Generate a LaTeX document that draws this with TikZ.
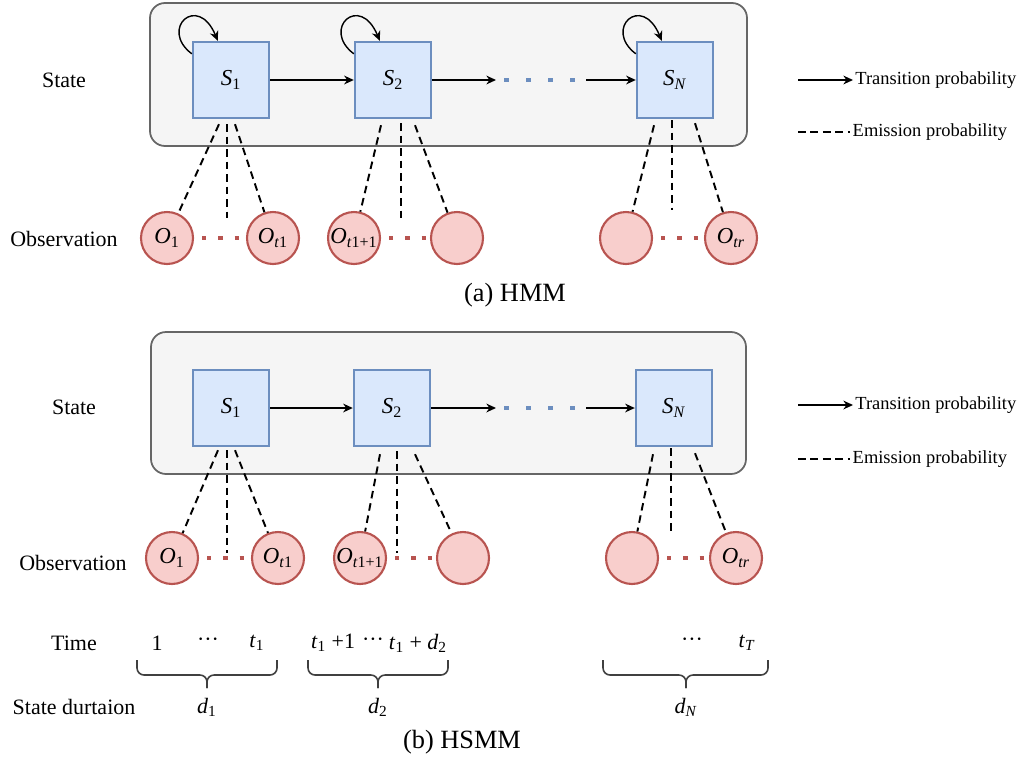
\documentclass[tikz,border=0pt]{standalone}
\usepackage{fontspec}
\setmainfont{Liberation Serif}
\usetikzlibrary{arrows.meta,calc}
\definecolor{boxgray}{HTML}{F5F5F5}
\definecolor{edgegray}{HTML}{666666}
\definecolor{stfill}{HTML}{DAE8FC}
\definecolor{stdraw}{HTML}{6C8EBF}
\definecolor{obfill}{HTML}{F8CECC}
\definecolor{obdraw}{HTML}{B85450}
\newcommand{\mvar}[2]{\textit{#1}\textsubscript{#2}}
\newcommand{\cdts}{\textperiodcentered\textperiodcentered\textperiodcentered}

\begin{document}
\begin{tikzpicture}[x=0.02cm,y=-0.02cm,
  panel/.style={draw=edgegray,fill=boxgray,line width=1pt,rounded corners=0.3cm},
  stnode/.style={draw=stdraw,fill=stfill,line width=1.4pt,minimum size=1.52cm,inner sep=0pt,font=\fontsize{13}{15}\selectfont},
  obnode/.style={circle,draw=obdraw,fill=obfill,line width=1.2pt,minimum size=1.04cm,inner sep=0pt,font=\fontsize{13}{15}\selectfont},
  lbl/.style={font=\fontsize{12.5}{15}\selectfont},
  tlbl/.style={font=\fontsize{12.5}{14}\selectfont},
  leg/.style={anchor=west,inner sep=1pt,font=\fontsize{10.5}{12}\selectfont},
  captext/.style={font=\fontsize{15}{18}\selectfont},
  trans/.style={-{Stealth[length=5.5pt,width=5pt]},line width=0.8pt},
  emit/.style={line width=1.1pt,dash pattern=on 4.3pt off 2.8pt},
  rdots/.style={draw=obdraw,line width=2.4pt,dash pattern=on 2.4pt off 6.9pt,dash phase=4.75pt},
  bdots/.style={draw=stdraw,line width=2.8pt,dash pattern=on 2.8pt off 9.7pt,dash phase=7.7pt},
  brc/.style={rounded corners=4pt,line width=0.9pt,draw=black!75}]
\useasboundingbox (0,0) rectangle (1023,761);

% (a) HMM
\draw[panel] (150,3) rectangle (747,146);
\node[lbl] (state) at (64,80) {State};
\node[lbl] (obs) at (64,239) {Observation};
\node[stnode] (s1) at (231,80) {\mvar{S}{1}};
\node[stnode] (s2) at (393,80) {\mvar{S}{2}};
\node[stnode] (sn) at (675,80) {\mvar{S}{\textit{N}}};
\node[obnode] (o1) at (167,238) {\mvar{O}{1}};
\node[obnode] (ot1) at (273,238) {\mvar{O}{\textit{t}1}};
\node[obnode] (ot2) at (354,238) {\mvar{O}{\textit{t}1+1}};
\node[obnode] (ob2) at (457,238) {};
\node[obnode] (ob3) at (626,238) {};
\node[obnode] (otr) at (731,238) {\mvar{O}{\textit{tr}}};
\coordinate (ga) at (496,80);
\coordinate (gb) at (586,80);
\draw[trans] (s1) -- (s2);
\draw[trans] (s2) -- (ga);
\draw[bdots] (ga) -- (gb);
\draw[trans] (gb) -- (sn);
\draw[trans] ($(s1.north west)+(0,13)$) .. controls ($(s1.north west)+(-33,-12)$) and ($(s1.north west)+(6,-48)$) .. ($(s1.north west)+(26,0)$);
\draw[trans] ($(s2.north west)+(0,13)$) .. controls ($(s2.north west)+(-33,-12)$) and ($(s2.north west)+(6,-48)$) .. ($(s2.north west)+(26,0)$);
\draw[trans] ($(sn.north west)+(0,13)$) .. controls ($(sn.north west)+(-33,-12)$) and ($(sn.north west)+(6,-48)$) .. ($(sn.north west)+(26,0)$);
\coordinate (m1) at (227,218);
\coordinate (m2) at (401,218);
\coordinate (m3) at (672,210);
\draw[emit] ($(s1.south)+(-12,5)$) -- (o1);
\draw[emit] ($(s1.south)+(-4,5)$) -- (m1);
\draw[emit] ($(s1.south)+(4,5)$) -- (ot1);
\draw[emit] ($(s2.south)+(-12,6)$) -- (ot2);
\draw[emit] ($(s2.south)+(8,4)$) -- (m2);
\draw[emit] ($(s2.south)+(22,6)$) -- (ob2);
\draw[emit] ($(sn.south)+(-21,6)$) -- (ob3);
\draw[emit] ($(sn.south)+(-3,1)$) -- (m3);
\draw[emit] ($(sn.south)+(20,4)$) -- (otr);
\draw[rdots] (o1) -- (ot1);
\draw[rdots] (ot2) -- (ob2);
\draw[rdots] (ob3) -- (otr);
\coordinate (la1) at (798,80);
\coordinate (la2) at (853,80);
\draw[trans] (la1) -- (la2) node[leg] (tpa) {Transition probability};
\coordinate (le1) at (798,132);
\coordinate (le2) at (850,132);
\draw[emit] (le1) -- (le2) node[leg] (epa) {Emission probability};
\node[captext] (capa) at (515,295) {(a) HMM};

% (b) HSMM
\draw[panel] (151,332) rectangle (746,474);
\node[lbl] (stateb) at (74,407) {State};
\node[lbl] (obsb) at (73,563) {Observation};
\node[lbl] (time) at (74,643) {Time};
\node[lbl] (dur) at (74,707) {State durtaion};
\node[stnode] (s1b) at (231,408) {\mvar{S}{1}};
\node[stnode] (s2b) at (392,408) {\mvar{S}{2}};
\node[stnode] (snb) at (674,408) {\mvar{S}{\textit{N}}};
\node[obnode] (o1b) at (172,558) {\mvar{O}{1}};
\node[obnode] (ot1b) at (278,558) {\mvar{O}{\textit{t}1}};
\node[obnode] (ot2b) at (360,558) {\mvar{O}{\textit{t}1+1}};
\node[obnode] (ob2b) at (463,558) {};
\node[obnode] (ob3b) at (632,558) {};
\node[obnode] (otrb) at (736,558) {\mvar{O}{\textit{tr}}};
\coordinate (gc) at (496,408);
\coordinate (gd) at (586,408);
\draw[trans] (s1b) -- (s2b);
\draw[trans] (s2b) -- (gc);
\draw[bdots] (gc) -- (gd);
\draw[trans] (gd) -- (snb);
\coordinate (m4) at (227,553);
\coordinate (m5) at (397,553);
\coordinate (m6) at (671,535);
\draw[emit] ($(s1b.south)+(-13,3)$) -- (o1b);
\draw[emit] ($(s1b.south)+(-4,3)$) -- (m4);
\draw[emit] ($(s1b.south)+(4,3)$) -- (ot1b);
\draw[emit] ($(s2b.south)+(-12,7)$) -- (ot2b);
\draw[emit] ($(s2b.south)+(5,4)$) -- (m5);
\draw[emit] ($(s2b.south)+(23,7)$) -- (ob2b);
\draw[emit] ($(snb.south)+(-21,7)$) -- (ob3b);
\draw[emit] ($(snb.south)+(-3,1)$) -- (m6);
\draw[emit] ($(snb.south)+(21,6)$) -- (otrb);
\draw[rdots] (o1b) -- (ot1b);
\draw[rdots] (ot2b) -- (ob2b);
\draw[rdots] (ob3b) -- (otrb);
\coordinate (lb1) at (798,405);
\coordinate (lb2) at (853,405);
\draw[trans] (lb1) -- (lb2) node[leg] (tpb) {Transition probability};
\coordinate (lf1) at (798,459);
\coordinate (lf2) at (850,459);
\draw[emit] (lf1) -- (lf2) node[leg] (epb) {Emission probability};

% time and durations
\node[tlbl] (t1) at (157,643) {1};
\node[tlbl] (t2) at (208,642) {\cdts};
\node[tlbl] (t3) at (257,643) {\mvar{t}{1}};
\node[tlbl] (t4) at (333,643) {\mvar{t}{1} +1};
\node[tlbl] (t5) at (373,642) {\cdts};
\node[tlbl] (t6) at (418,643) {\mvar{t}{1} + \mvar{d}{2}};
\node[tlbl] (t7) at (692,642) {\cdts};
\node[tlbl] (t8) at (747,643) {\mvar{t}{\textit{T}}};
\draw[brc] (137,660) |- (207,675) -- (207,688);
\draw[brc] (277,660) |- (207,675) -- (207,688);
\draw[brc] (308,660) |- (378,675) -- (378,688);
\draw[brc] (448,660) |- (378,675) -- (378,688);
\draw[brc] (603,660) |- (686,675) -- (686,688);
\draw[brc] (768,660) |- (686,675) -- (686,688);
\node[tlbl] (d1) at (207,707) {\mvar{d}{1}};
\node[tlbl] (d2) at (378,707) {\mvar{d}{2}};
\node[tlbl] (dn) at (686,707) {\mvar{d}{\textit{N}}};
\node[captext] (capb) at (462,742) {(b) HSMM};
\end{tikzpicture}
\end{document}
